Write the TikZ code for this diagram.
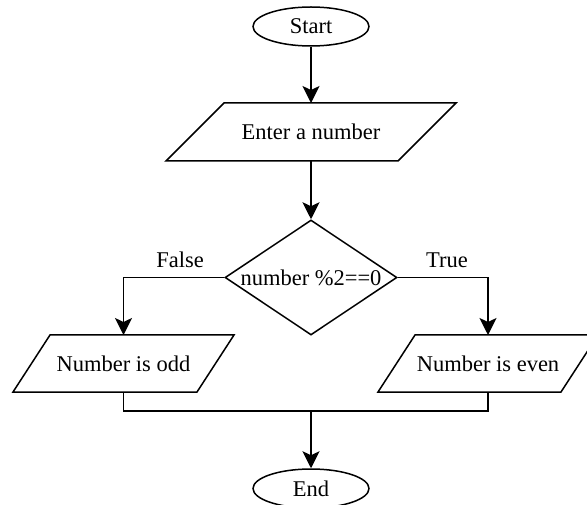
\documentclass[tikz,border=0pt]{standalone}
\usepackage{fontspec}
\setmainfont{Liberation Serif}
\usetikzlibrary{shapes.geometric,arrows.meta}
% zero-width text so shapes take their size from the given dimensions only
\newcommand{\nowidth}[1]{\makebox[0pt]{#1}}
\begin{document}
\begin{tikzpicture}[x=1pt,y=-1pt,
  every node/.style={font=\fontsize{22.5}{27}\selectfont},
  base/.style={draw=black, line width=1.5pt, fill=white, inner sep=0pt},
  terminal/.style={base, ellipse, minimum width=116pt, minimum height=39pt},
  iobox/.style={rectangle, inner sep=0pt, outer sep=0pt},
  decision/.style={base, diamond, minimum width=172pt, minimum height=115pt},
  outline/.style={line width=1.5pt, draw=black, line join=miter},
  flow/.style={line width=1.5pt, draw=black,
    -{Stealth[length=17pt, width=17pt, inset=4pt]}},
  plain/.style={line width=1.5pt, draw=black},
  tag/.style={inner sep=0pt}
]
\useasboundingbox (0,0) rectangle (587,505);

\node[terminal] (start) at (311,26.5) {\nowidth{Start}};
\node[iobox, minimum width=290pt, minimum height=58pt] (enter) at (311,132) {Enter a number};
\node[decision] (dec) at (311,277.5) {\nowidth{number \%2==0}};
\node[iobox, minimum width=221pt, minimum height=57pt] (odd) at (123.5,363.5) {Number is odd};
\node[iobox, minimum width=220pt, minimum height=57pt] (even) at (488,363.5) {Number is even};
\node[terminal] (end) at (311,488.5) {\nowidth{End}};

% slanted input/output boxes drawn around their text nodes
\draw[outline] ([xshift=58pt]enter.north west) -- (enter.north east)
  -- ([xshift=-58pt]enter.south east) -- (enter.south west) -- cycle;
\draw[outline] ([xshift=37pt]odd.north west) -- (odd.north east)
  -- ([xshift=-37pt]odd.south east) -- (odd.south west) -- cycle;
\draw[outline] ([xshift=37pt]even.north west) -- (even.north east)
  -- ([xshift=-37pt]even.south east) -- (even.south west) -- cycle;

\coordinate (mj) at (311,411);

\draw[flow] (start) -- (enter);
\draw[flow] (enter) -- (dec);
\draw[flow] (dec.west) -| (odd.north);
\draw[flow] (dec.east) -| (even.north);
\draw[plain] (odd.south) |- (mj) -| (even.south);
\draw[flow] (mj) -- (end);

\node[tag] (lfalse) at (180,260) {False};
\node[tag] (ltrue) at (447,260) {True};
\end{tikzpicture}
\end{document}
